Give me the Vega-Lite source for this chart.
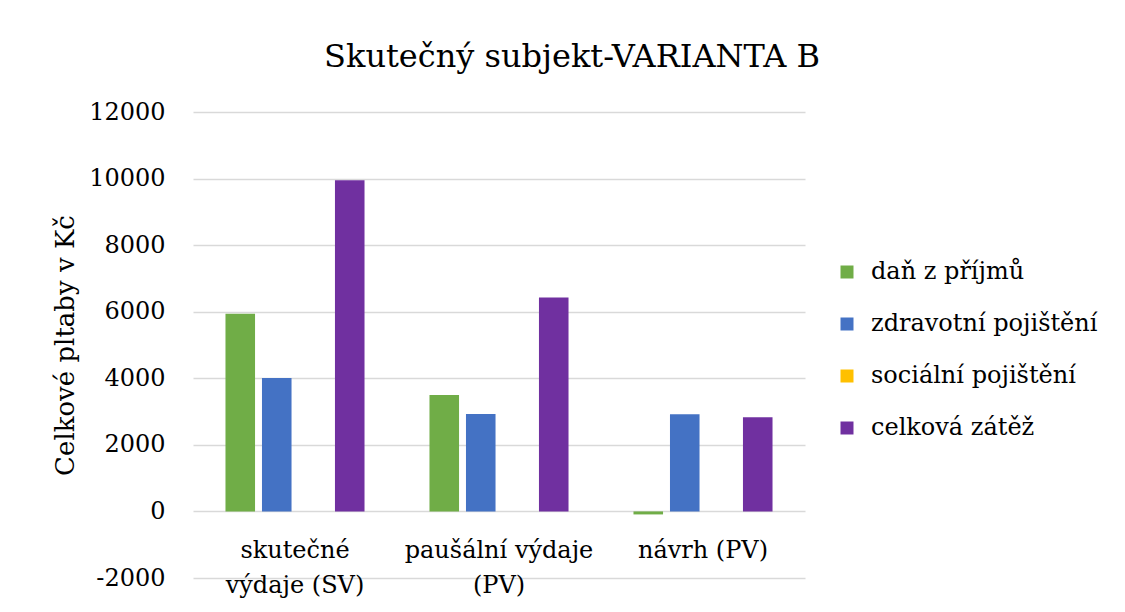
{
  "$schema": "https://vega.github.io/schema/vega-lite/v6.json",
  "width": 612,
  "height": 466,
  "autosize": {"type": "none"},
  "padding": {"left": 193, "top": 112, "right": 320, "bottom": 34},
  "background": "white",
  "title": {
    "text": "Skutečný subjekt-VARIANTA B",
    "font": "DejaVu Serif",
    "fontSize": 32,
    "fontWeight": "normal",
    "color": "#000000",
    "anchor": "middle",
    "frame": "group",
    "dx": 73,
    "offset": 26
  },
  "config": {
    "view": {"stroke": null},
    "font": "DejaVu Serif"
  },
  "data": {
    "values": [
      {"kategorie": "skutečné výdaje (SV)", "polozka": "daň z příjmů", "hodnota": 5940},
      {"kategorie": "skutečné výdaje (SV)", "polozka": "zdravotní pojištění", "hodnota": 4010},
      {"kategorie": "skutečné výdaje (SV)", "polozka": "sociální pojištění", "hodnota": 0},
      {"kategorie": "skutečné výdaje (SV)", "polozka": "celková zátěž", "hodnota": 9950},
      {"kategorie": "paušální výdaje (PV)", "polozka": "daň z příjmů", "hodnota": 3500},
      {"kategorie": "paušální výdaje (PV)", "polozka": "zdravotní pojištění", "hodnota": 2930},
      {"kategorie": "paušální výdaje (PV)", "polozka": "sociální pojištění", "hodnota": 0},
      {"kategorie": "paušální výdaje (PV)", "polozka": "celková zátěž", "hodnota": 6430},
      {"kategorie": "návrh (PV)", "polozka": "daň z příjmů", "hodnota": -90},
      {"kategorie": "návrh (PV)", "polozka": "zdravotní pojištění", "hodnota": 2920},
      {"kategorie": "návrh (PV)", "polozka": "sociální pojištění", "hodnota": 0},
      {"kategorie": "návrh (PV)", "polozka": "celková zátěž", "hodnota": 2830}
    ]
  },
  "mark": {"type": "bar"},
  "encoding": {
    "x": {
      "field": "kategorie",
      "type": "nominal",
      "sort": ["skutečné výdaje (SV)", "paušální výdaje (PV)", "návrh (PV)"],
      "scale": {"paddingInner": 0, "paddingOuter": 0},
      "axis": {
        "title": null,
        "orient": "bottom",
        "offset": -67,
        "domain": false,
        "ticks": false,
        "grid": false,
        "labelAngle": 0,
        "labelFont": "DejaVu Serif",
        "labelFontSize": 24,
        "labelColor": "#000000",
        "labelPadding": 27,
        "labelBaseline": "top",
        "labelLineHeight": 35,
        "labelLimit": 300,
        "labelExpr": "datum.label == 'skutečné výdaje (SV)' ? ['skutečné', 'výdaje (SV)'] : datum.label == 'paušální výdaje (PV)' ? ['paušální výdaje', '(PV)'] : datum.label"
      }
    },
    "xOffset": {
      "field": "polozka",
      "type": "nominal",
      "sort": ["daň z příjmů", "zdravotní pojištění", "sociální pojištění", "celková zátěž"],
      "scale": {"paddingInner": 0.19, "paddingOuter": 0.89}
    },
    "y": {
      "field": "hodnota",
      "type": "quantitative",
      "scale": {"domain": [-2000, 12000], "nice": false, "zero": true},
      "axis": {
        "title": "Celkové  pltaby v Kč",
        "titleFont": "DejaVu Serif",
        "titleFontSize": 26,
        "titleFontWeight": "normal",
        "titleColor": "#000000",
        "titleAngle": -90,
        "titleX": -120,
        "titleY": 233,
        "titleAlign": "center",
        "titleBaseline": "alphabetic",
        "values": [-2000, 0, 2000, 4000, 6000, 8000, 10000, 12000],
        "labelExpr": "'' + datum.value",
        "domain": false,
        "ticks": false,
        "labelFont": "DejaVu Serif",
        "labelFontSize": 24,
        "labelColor": "#000000",
        "labelPadding": 28,
        "gridColor": "#d9d9d9",
        "gridWidth": 1.5
      }
    },
    "color": {
      "field": "polozka",
      "type": "nominal",
      "scale": {
        "domain": ["daň z příjmů", "zdravotní pojištění", "sociální pojištění", "celková zátěž"],
        "range": ["#70AD47", "#4472C4", "#FFC000", "#7030A0"]
      },
      "legend": {
        "title": null,
        "orient": "none",
        "legendX": 642,
        "legendY": 148,
        "padding": 0,
        "symbolType": "square",
        "symbolSize": 169,
        "symbolStrokeWidth": 0,
        "labelFont": "DejaVu Serif",
        "labelFontSize": 24,
        "labelColor": "#000000",
        "labelOffset": 12,
        "labelLimit": 400,
        "rowPadding": 28
      }
    }
  }
}
